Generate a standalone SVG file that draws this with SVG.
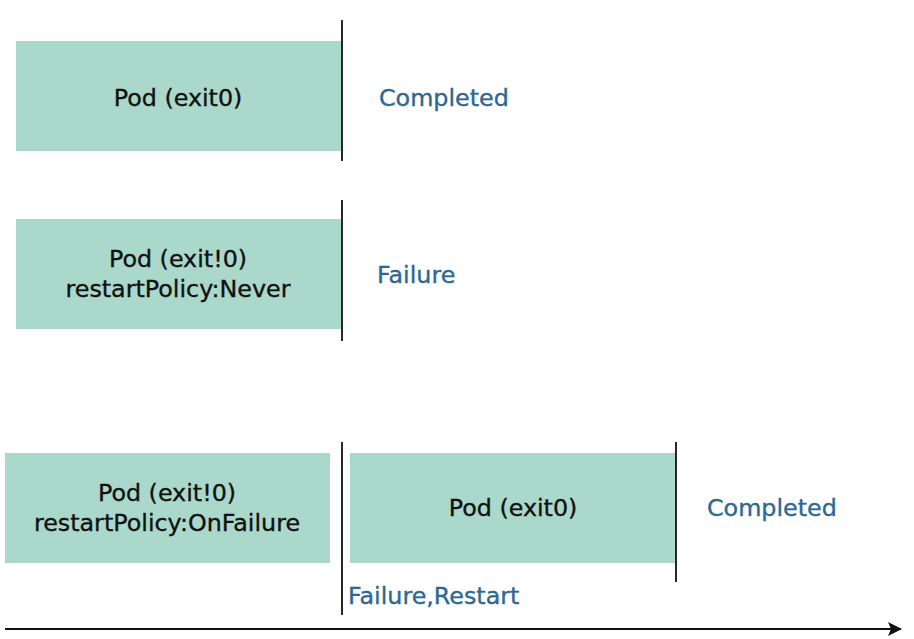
<svg xmlns="http://www.w3.org/2000/svg" width="914" height="639" viewBox="0 0 914 639">
<style>
.box{fill:#aad9cb;}
.t{font-family:"DejaVu Sans","Liberation Sans",sans-serif;font-size:23.8px;fill:#111;stroke:#111;stroke-width:0.35;text-anchor:middle;}
.s{font-family:"DejaVu Sans","Liberation Sans",sans-serif;font-size:23.8px;fill:#2b6894;stroke:#2b6894;stroke-width:0.35;}
.ln{stroke:#111;stroke-width:1.8;fill:none;}
</style>
<defs>
<marker id="ah" markerWidth="14" markerHeight="14" refX="13" refY="7" orient="auto" markerUnits="userSpaceOnUse">
<path d="M0,0 L14,7 L0,14 L3,7 Z" fill="#111"/>
</marker>
</defs>
<rect width="914" height="639" fill="#fff"/>
<g id="pod1">
<rect class="box" x="16" y="41" width="325" height="110"/>
<text class="t" x="178" y="106">Pod (exit0)</text>
</g>
<g id="pod2">
<rect class="box" x="16" y="219" width="325" height="110"/>
<text class="t" x="178" y="267">Pod (exit!0)</text>
<text class="t" x="178" y="297">restartPolicy:Never</text>
</g>
<g id="pod3">
<rect class="box" x="5" y="453" width="325" height="110"/>
<text class="t" x="167" y="501">Pod (exit!0)</text>
<text class="t" x="167" y="531">restartPolicy:OnFailure</text>
</g>
<g id="pod4">
<rect class="box" x="350" y="453" width="325" height="110"/>
<text class="t" x="513" y="516">Pod (exit0)</text>
</g>
<g id="labels">
<text class="s" x="379" y="106">Completed</text>
<text class="s" x="377" y="283">Failure</text>
<text class="s" x="707" y="516">Completed</text>
<text class="s" x="348" y="604">Failure,Restart</text>
</g>
<g id="connectors">
<line class="ln" x1="342" y1="20" x2="342" y2="161"/>
<line class="ln" x1="342" y1="200" x2="342" y2="341"/>
<line class="ln" x1="342" y1="442" x2="342" y2="615"/>
<line class="ln" x1="676" y1="442" x2="676" y2="582"/>
<line class="ln" x1="5" y1="629" x2="901" y2="629" marker-end="url(#ah)"/>
</g>
</svg>
